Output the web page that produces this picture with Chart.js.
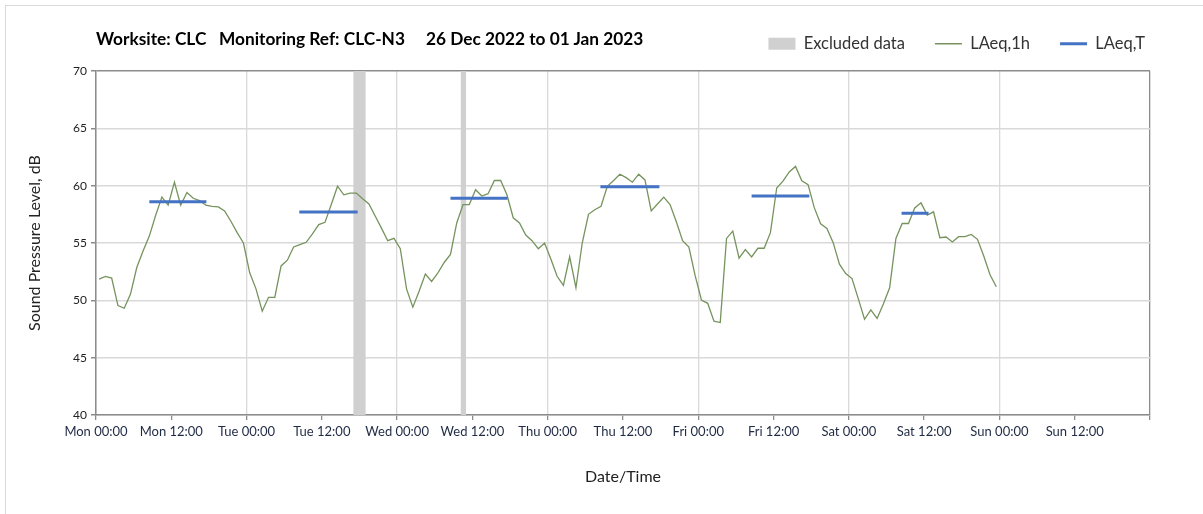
<!DOCTYPE html>
<html>
<head>
<meta charset="utf-8">
<title>CLC-N3 noise monitoring</title>
<script src="https://cdn.jsdelivr.net/npm/chart.js@4.4.0/dist/chart.umd.min.js"></script>
<style>
    html, body { margin: 0; padding: 0; background: #fff; }
    #wrap { position: relative; width: 1203px; height: 514px; overflow: hidden; }
    #frame {
        position: absolute; left: 5px; top: 5px; width: 1400px; height: 700px;
        border-left: 1.5px solid #d9d9d9; border-top: 1.5px solid #d9d9d9;
        pointer-events: none;
    }
    #title {
        position: absolute; left: 96px; top: 28px;
        font: bold 17.3px Lato, "Open Sans", sans-serif; color: #000;
        white-space: pre;
    }
    canvas { position: absolute; left: 0; top: 0; }
</style>
</head>
<body>
<div id="wrap">
    <div id="frame"></div>
    <canvas id="noiseChart" width="1203" height="514"></canvas>
    <div id="title">Worksite: CLC   Monitoring Ref: CLC-N3     26 Dec 2022 to 01 Jan 2023</div>
</div>
<script>
// hourly LAeq,1h from Mon 00:00 (one value per hour, plotted mid-hour)
const hourlyLevels = [
    51.85, 52.08, 51.94, 49.54, 49.31, 50.55, 52.86, 54.3, 55.6, 57.4, 59.0, 58.3,
    60.3, 58.3, 59.4, 58.9, 58.7, 58.3, 58.2, 58.15, 57.8, 56.9, 55.9, 55.0,
    52.4, 51.0, 49.05, 50.26, 50.26, 53.0, 53.5, 54.65, 54.85, 55.06, 55.8, 56.6,
    56.8, 58.35, 59.95, 59.2, 59.35, 59.35, 58.85, 58.4, 57.35, 56.3, 55.2, 55.4,
    54.5, 51.0, 49.4, 50.8, 52.3, 51.65, 52.4, 53.3, 54.0, 56.75, 58.35, 58.35,
    59.65, 59.1, 59.3, 60.45, 60.45, 59.2, 57.2, 56.75, 55.7, 55.2, 54.5, 55.0,
    53.6, 52.1, 51.3, 53.8, 51.1, 55.0, 57.5, 57.9, 58.2, 59.95, 60.45, 61.0,
    60.7, 60.3, 61.0, 60.5, 57.8, 58.4, 59.0, 58.35, 56.85, 55.2, 54.65, 52.15,
    50.03, 49.74, 48.18, 48.06, 55.4, 56.04, 53.67, 54.42, 53.79, 54.54, 54.54, 55.9,
    59.8, 60.4, 61.2, 61.68, 60.43, 60.09, 58.06, 56.68, 56.27, 55.03, 53.15, 52.34,
    51.9, 50.15, 48.35, 49.16, 48.42, 49.68, 51.1, 55.4, 56.7, 56.7, 58.06, 58.5,
    57.43, 57.72, 55.46, 55.52, 55.09, 55.55, 55.55, 55.75, 55.32, 53.87, 52.23, 51.18
];
const firstHour = 0.5;

// LAeq,T daytime periods (hours from Mon 00:00)
const periodStart = [8.5, 32.4, 56.5, 80.4, 104.5, 128.4];
const periodEnd = [17.6, 41.7, 65.6, 89.8, 113.7, 132.7];
const periodLevel = [58.6, 57.7, 58.9, 59.9, 59.1, 57.6];

// excluded data windows (hours from Mon 00:00)
const excludedStart = [41.0, 58.1];
const excludedEnd = [43.0, 59.0];

const tickLabels = [
    'Mon 00:00', 'Mon 12:00', 'Tue 00:00', 'Tue 12:00', 'Wed 00:00', 'Wed 12:00',
    'Thu 00:00', 'Thu 12:00', 'Fri 00:00', 'Fri 12:00', 'Sat 00:00', 'Sat 12:00',
    'Sun 00:00', 'Sun 12:00', ''
];
const yTicks = [40, 45, 50, 55, 60, 65, 70];

const FONT = 'Lato, "Open Sans", sans-serif';
const GREEN = '#76935d';
const BLUE = '#4472c4';
const GREY_BAND = '#d0d0d0';
const AXIS = '#8c8c8c';
const GRID = '#d9d9d9';

// build the point lists, inserting nulls so that segments are not joined
const hourlyPoints = hourlyLevels.map((v, i) => ({ x: i + firstHour, y: v }));

const periodPoints = [];
periodStart.forEach((s, i) => {
    periodPoints.push({ x: s, y: periodLevel[i] });
    periodPoints.push({ x: periodEnd[i], y: periodLevel[i] });
    periodPoints.push({ x: periodEnd[i] + 1, y: null });
});

const excludedPoints = [];
excludedStart.forEach((s, i) => {
    excludedPoints.push({ x: s, y: yTicks[yTicks.length - 1] });
    excludedPoints.push({ x: excludedEnd[i], y: yTicks[yTicks.length - 1] });
    excludedPoints.push({ x: excludedEnd[i] + 1, y: null });
});

const legendItems = [
    { text: 'Excluded data', fillStyle: GREY_BAND, strokeStyle: GREY_BAND, lineWidth: 0, pointStyle: 'rect' },
    { text: 'LAeq,1h', fillStyle: GREEN, strokeStyle: GREEN, lineWidth: 1.3, pointStyle: 'line' },
    { text: 'LAeq,T', fillStyle: BLUE, strokeStyle: BLUE, lineWidth: 3, pointStyle: 'line' }
];

const ctx = document.getElementById('noiseChart');

new Chart(ctx, {
    type: 'line',
    data: {
        datasets: [
            {
                label: 'LAeq,T',
                data: periodPoints,
                borderColor: BLUE,
                borderWidth: 3,
                borderCapStyle: 'butt',
                pointRadius: 0,
                spanGaps: false,
                order: 1
            },
            {
                label: 'LAeq,1h',
                data: hourlyPoints,
                borderColor: GREEN,
                borderWidth: 1.3,
                pointRadius: 0,
                tension: 0,
                order: 2
            },
            {
                label: 'Excluded data',
                data: excludedPoints,
                borderWidth: 0,
                borderColor: GREY_BAND,
                backgroundColor: GREY_BAND,
                fill: 'start',
                pointRadius: 0,
                spanGaps: false,
                order: 3
            }
        ]
    },
    options: {
        responsive: false,
        animation: false,
        layout: { padding: { top: 5.5, right: 28, bottom: 0, left: 0 } },
        scales: {
            x: {
                type: 'linear',
                min: 0,
                max: 168,
                afterFit: (scale) => { scale.height = 99; },
                afterBuildTicks: (scale) => {
                    scale.ticks = tickLabels.map((t, i) => ({ value: i * 12 }));
                },
                ticks: {
                    autoSkip: false,
                    maxRotation: 0,
                    padding: 4,
                    color: '#1f2a44',
                    font: { family: FONT, size: 13 },
                    callback: (value, index) => tickLabels[index]
                },
                grid: {
                    color: (c) => {
                        const v = c.tick ? c.tick.value : 0;
                        if (v === 168) return AXIS;
                        return v % 24 === 0 ? GRID : 'rgba(0,0,0,0)';
                    },
                    tickColor: AXIS,
                    tickLength: 5,
                    lineWidth: 1.3
                },
                border: { color: AXIS, width: 1.5 },
                title: {
                    display: true,
                    text: 'Date/Time',
                    color: '#222',
                    font: { family: FONT, size: 16 },
                    padding: { top: 0, bottom: 28 }
                }
            },
            // empty spacer between legend and plot
            xTop: {
                type: 'linear',
                position: 'top',
                display: true,
                afterFit: (scale) => { scale.height = 9; },
                ticks: { display: false },
                grid: { display: false, drawTicks: false },
                border: { display: false }
            },
            y: {
                min: 40,
                max: 70,
                afterFit: (scale) => { scale.width = 96; },
                afterBuildTicks: (scale) => {
                    scale.ticks = yTicks.map(v => ({ value: v }));
                },
                ticks: {
                    padding: 4,
                    color: '#222',
                    font: { family: FONT, size: 12 }
                },
                grid: {
                    color: (c) => (c.tick && c.tick.value === 70 ? AXIS : GRID),
                    tickColor: AXIS,
                    tickLength: 5,
                    lineWidth: 1.5
                },
                border: { color: AXIS, width: 1.5 },
                title: {
                    display: true,
                    text: 'Sound Pressure Level, dB',
                    color: '#222',
                    font: { family: FONT, size: 16 },
                    padding: { top: 25, bottom: 0 }
                }
            },
            // empty spacer on the right of the plot
            yRight: {
                position: 'right',
                display: true,
                afterFit: (scale) => { scale.width = 25; },
                ticks: { display: false },
                grid: { display: false, drawTicks: false },
                border: { display: false }
            }
        },
        plugins: {
            legend: {
                position: 'top',
                align: 'end',
                labels: {
                    usePointStyle: true,
                    pointStyleWidth: 27,
                    boxHeight: 12,
                    padding: 30,
                    color: '#333',
                    font: { family: FONT, size: 16.5 },
                    generateLabels: () => legendItems.map((it, i) => ({
                        text: it.text,
                        fillStyle: it.fillStyle,
                        strokeStyle: it.strokeStyle,
                        lineWidth: it.lineWidth,
                        pointStyle: it.pointStyle,
                        fontColor: '#333',
                        hidden: false,
                        datasetIndex: i
                    }))
                }
            },
            tooltip: { enabled: false }
        }
    }
});
</script>
</body>
</html>
